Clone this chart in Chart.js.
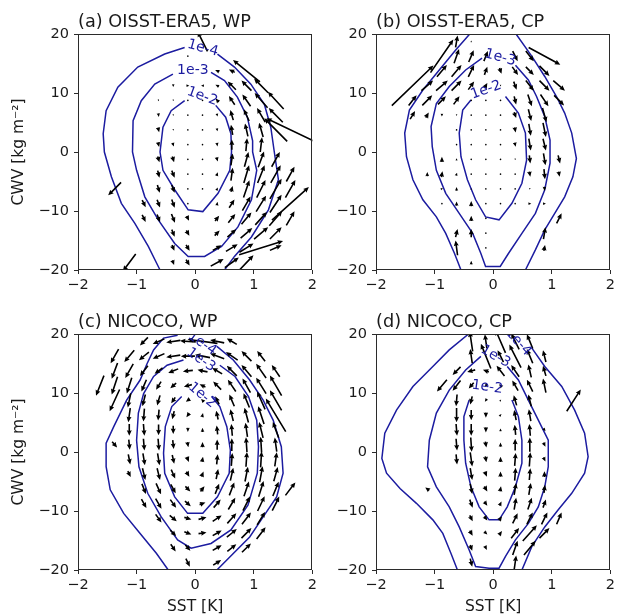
<!DOCTYPE html>
<html>
<head>
<meta charset="utf-8">
<title>SST-CWV phase space</title>
<script src="https://cdn.jsdelivr.net/npm/chart.js@4.4.1/dist/chart.umd.min.js"></script>
<style>
  html, body { margin: 0; padding: 0; background: #fff; }
  #wrap { position: relative; width: 618px; height: 616px; overflow: hidden; }
  #wrap canvas { position: absolute; }
</style>
</head>
<body>
<div id="wrap">
  <canvas id="panelA" width="320" height="300" style="left:0;top:0"></canvas>
  <canvas id="panelB" width="318" height="300" style="left:300px;top:0"></canvas>
  <canvas id="panelC" width="320" height="316" style="left:0;top:300px"></canvas>
  <canvas id="panelD" width="318" height="316" style="left:300px;top:300px"></canvas>
</div>
<script>
// ---- data ----
const xTickLabels = ['\u22122', '\u22121', '0', '1', '2'];
const yTickLabels = ['\u221220', '\u221210', '0', '10', '20'];
const panelTitles = ['(a) OISST-ERA5, WP', '(b) OISST-ERA5, CP', '(c) NICOCO, WP', '(d) NICOCO, CP'];

// contour lines [SST, CWV], broken where the inline labels sit
const a4Left = [[-0.18,17.7],[-0.52,16.6],[-0.98,14.4],[-1.32,11.0],[-1.52,7.0],[-1.57,3.1],[-1.55,0.0],[-1.43,-4.2],[-1.26,-8.7],[-1.03,-12.1],[-0.8,-16.0],[-0.63,-19.4],[-0.6,-20]];
const a4Right = [[0.38,16.6],[0.67,14.4],[0.95,11.5],[1.18,8.1],[1.29,4.2],[1.35,0.0],[1.42,-4.7],[1.25,-9.8],[0.96,-14.4],[0.67,-17.7],[0.5,-20]];
const a3 = [[0.27,13.5],[0.5,12.1],[0.72,9.3],[0.89,5.9],[0.98,1.9],[0.98,0.0],[1.05,-3.1],[0.96,-8.1],[0.73,-12.7],[0.45,-16.0],[0.16,-17.7],[-0.12,-17.7],[-0.35,-15.5],[-0.63,-11.5],[-0.86,-7.6],[-1.0,-3.1],[-1.07,0.0],[-1.06,5.3],[-0.92,8.7],[-0.69,11.5],[-0.38,13.2]];
const a2 = [[0.35,7.9],[0.52,5.9],[0.61,3.1],[0.62,0.0],[0.59,-3.1],[0.39,-7.0],[0.13,-10.1],[-0.12,-9.8],[-0.35,-6.4],[-0.55,-3.1],[-0.6,0.0],[-0.55,4.2],[-0.41,7.0],[-0.18,8.7]];

const b4Left = [[-0.4,20],[-0.64,17.3],[-0.92,13.9],[-1.2,10.5],[-1.43,7.1],[-1.51,3.2],[-1.48,-0.8],[-1.37,-4.7],[-1.2,-8.1],[-0.97,-11],[-0.81,-13.8],[-0.66,-17.2],[-0.55,-20]];
const b4Right = [[0.39,20],[0.66,16.2],[0.88,12.8],[1.08,9.4],[1.22,6.6],[1.34,3.2],[1.42,-1.1],[1.36,-4.2],[1.22,-7.6],[1.05,-10.4],[0.88,-13.2],[0.72,-16.6],[0.55,-20]];
const b3 = [[0.38,14.7],[0.6,12.2],[0.74,9.4],[0.88,6.0],[0.97,2.0],[0.97,-1.9],[0.88,-6.4],[0.72,-10.4],[0.49,-13.8],[0.26,-17.2],[0.12,-19.4],[-0.13,-19.4],[-0.21,-17.2],[-0.35,-13.8],[-0.58,-10.4],[-0.81,-7.0],[-0.97,-3.1],[-1.04,0.9],[-1.06,4.3],[-0.97,8.2],[-0.75,11.1],[-0.47,13.9],[-0.19,15.9]];
const b2 = [[0.21,9.4],[0.43,6.6],[0.55,3.2],[0.57,-1.4],[0.49,-5.3],[0.32,-8.7],[0.1,-11.5],[-0.13,-11],[-0.3,-8.1],[-0.44,-4.7],[-0.55,-0.8],[-0.58,3.2],[-0.52,7.1],[-0.38,8.8]];

const c4Left = [[-0.3,19.8],[-0.54,19.3],[-0.71,17.3],[-0.82,15.0],[-0.94,12.2],[-1.17,8.8],[-1.39,4.3],[-1.52,1.5],[-1.52,-2.5],[-1.45,-6.4],[-1.22,-10.4],[-0.94,-13.8],[-0.66,-17.2],[-0.46,-20]];
const c4Right = [[0.37,17.9],[0.65,15.6],[0.93,12.2],[1.16,8.8],[1.33,5.4],[1.47,0.9],[1.5,-3.6],[1.39,-7.6],[1.16,-11],[0.93,-14.4],[0.65,-17.2],[0.37,-20]];
const c3 = [[0.42,14.7],[0.68,12.8],[0.91,9.4],[1.05,5.4],[1.08,0.9],[1.06,-3.6],[0.9,-9.0],[0.61,-13.2],[0.27,-15.5],[-0.07,-16.3],[-0.3,-14.9],[-0.58,-11],[-0.81,-7.0],[-0.96,-2.5],[-1.0,2.0],[-0.97,6.6],[-0.88,9.9],[-0.71,12.8],[-0.48,14.7],[-0.2,15.6]];
const c2 = [[0.28,9.4],[0.42,7.7],[0.54,4.3],[0.6,0.3],[0.58,-3.6],[0.38,-7.6],[0.13,-10.4],[-0.13,-10.4],[-0.35,-7.6],[-0.52,-3.6],[-0.54,-0.2],[-0.51,4.3],[-0.4,7.7],[-0.23,9.4]];

const d4Left = [[-0.42,20],[-0.75,17.3],[-1.03,14.5],[-1.37,11.1],[-1.65,7.1],[-1.85,3.2],[-1.9,-1.1],[-1.82,-3.6],[-1.59,-6.2],[-1.31,-8.7],[-1.03,-11.5],[-0.86,-13.8],[-0.72,-17.2],[-0.61,-20]];
const d4Right = [[0.66,17.6],[0.88,14.5],[1.17,11.1],[1.39,7.1],[1.56,3.2],[1.62,-0.8],[1.56,-3.6],[1.34,-7.0],[1.11,-9.8],[0.88,-12.7],[0.66,-16],[0.49,-20]];
const d3 = [[0.24,14.5],[0.43,12.2],[0.6,8.8],[0.77,5.4],[0.94,2.0],[0.94,-2.5],[0.88,-5.9],[0.77,-9.3],[0.6,-12.1],[0.38,-14.9],[0.21,-17.7],[0.1,-19.7],[-0.07,-19.7],[-0.3,-19.4],[-0.41,-16.6],[-0.58,-12.7],[-0.75,-9.3],[-0.97,-5.9],[-1.12,-2.5],[-1.09,2.0],[-0.97,6.6],[-0.75,10.5],[-0.47,13.9],[-0.21,16.2]];
const d2 = [[0.32,8.8],[0.43,6.0],[0.49,2.0],[0.49,-1.9],[0.38,-5.9],[0.24,-9.3],[0.1,-11.5],[-0.07,-11.5],[-0.24,-9.3],[-0.38,-5.9],[-0.47,-1.9],[-0.5,2.0],[-0.5,6.0],[-0.41,8.8]];

// inline contour labels [text, SST, CWV, rotation deg]
const labelsA = [['1e-4', 0.13, 17.6, 15], ['1e-3', -0.04, 13.9, 0], ['1e-2', 0.12, 9.4, 20]];
const labelsB = [['1e-3', 0.12, 16.0, 15], ['1e-2', -0.12, 10.5, -20]];
const labelsC = [['1e-4', 0.12, 18.4, 35], ['1e-3', 0.1, 15.6, 35], ['1e-2', 0.12, 9.6, 40]];
const labelsD = [['1e-4', 0.43, 18.6, 48], ['1e-3', 0.04, 16.2, 30], ['1e-2', -0.1, 11.0, 8]];

// quiver arrows [SST, CWV, dSST, dCWV] (arrow centred on the bin)
const arrowsA = [
  [0.125,18.75,-0.17,3.4],[-0.125,16.25,0,-0.2],
  [0.375,13.75,-0.07,0.3],[0.625,13.75,-0.1,0.5],[0.875,13.75,-0.46,3.7],
  [-0.375,11.25,0,-0.5],[-0.125,11.25,0.05,0],[0.125,11.25,-0.05,0],[0.375,11.25,-0.06,0.3],[0.625,11.25,-0.14,1.4],[0.875,11.25,-0.17,1.7],[1.125,11.25,-0.24,2.4],
  [-0.625,8.75,0.01,-0.3],[-0.375,8.75,0,-0.3],[-0.125,8.75,0,-0.15],[0.125,8.75,0,-0.15],[0.375,8.75,-0.05,0.6],[0.625,8.75,-0.1,1.5],[0.875,8.75,-0.14,2.0],[1.125,8.75,-0.22,2.5],[1.375,8.75,-0.27,2.9],
  [-0.625,6.25,0.01,-0.6],[-0.375,6.25,0,-0.3],[-0.125,6.25,0,-0.15],[0.125,6.25,0,-0.15],[0.375,6.25,0.01,-0.5],[0.625,6.25,-0.05,1.7],[0.875,6.25,-0.09,2.0],[1.125,6.25,-0.14,2.4],[1.375,6.25,-0.24,2.4],
  [-0.625,3.75,0.02,-0.8],[-0.375,3.75,0,-0.3],[-0.125,3.75,0,-0.1],[0.125,3.75,0,-0.1],[0.375,3.75,0.01,-0.5],[0.625,3.75,-0.03,1.7],[0.875,3.75,-0.05,2.2],[1.125,3.75,-0.07,2.4],[1.375,3.75,-0.39,3.9],[1.625,3.75,-0.82,3.9],
  [-0.625,1.25,0.02,-0.8],[-0.375,1.25,0.02,-0.6],[-0.125,1.25,0,-0.1],[0.125,1.25,0,-0.1],[0.375,1.25,0.01,-0.6],[0.625,1.25,0,1.7],[0.875,1.25,0.02,2.2],[1.125,1.25,0.03,2.5],
  [-0.625,-1.25,0.03,-1.0],[-0.375,-1.25,0.03,-1.0],[-0.125,-1.25,0,-0.1],[0.125,-1.25,0,-0.1],[0.375,-1.25,0.02,-0.7],[0.625,-1.25,0.03,2.0],[0.875,-1.25,0.07,2.5],[1.125,-1.25,0.1,2.7],[1.375,-1.25,0.14,2.5],
  [-0.625,-3.75,0.03,-1.2],[-0.375,-3.75,0.05,-1.2],[-0.125,-3.75,0,-0.1],[0.125,-3.75,0,-0.1],[0.375,-3.75,0.02,0.6],[0.625,-3.75,0.03,2.2],[0.875,-3.75,0.09,3.0],[1.125,-3.75,0.12,3.0],[1.375,-3.75,0.17,3.0],[1.625,-3.75,0.14,2.5],
  [-1.375,-6.25,-0.22,-2.2],[-0.625,-6.25,0.04,-1.3],[-0.375,-6.25,0.05,-1.3],[-0.125,-6.25,0,-0.1],[0.125,-6.25,0,-0.1],[0.375,-6.25,0.02,0.5],[0.625,-6.25,0.03,1.0],[0.875,-6.25,0.1,2.9],[1.125,-6.25,0.15,3.0],[1.375,-6.25,0.2,3.4],[1.625,-6.25,0.17,3.0],
  [-0.875,-8.75,0.06,-1.2],[-0.625,-8.75,0.05,-1.3],[-0.375,-8.75,0.05,-1.4],[-0.125,-8.75,0.01,-0.2],[0.375,-8.75,0.01,0.6],[0.625,-8.75,0.09,1.4],[0.875,-8.75,0.14,2.4],[1.125,-8.75,0.17,2.7],[1.375,-8.75,0.2,3.0],[1.625,-8.75,0.63,5.6],
  [-0.875,-11.25,0.06,-1.2],[-0.625,-11.25,0.05,-1.3],[-0.375,-11.25,0.06,-1.5],[-0.125,-11.25,0.04,-0.8],[0.375,-11.25,0.07,0.85],[0.625,-11.25,0.12,1.5],[0.875,-11.25,0.17,2.0],[1.125,-11.25,0.2,2.2],[1.375,-11.25,0.22,2.5],[1.625,-11.25,0.14,2.4],
  [-0.375,-13.75,0.05,-1.2],[-0.125,-13.75,0.05,-0.9],[0.375,-13.75,0.085,0.85],[0.625,-13.75,0.15,1.35],[0.875,-13.75,0.2,1.7],[1.125,-13.75,0.24,2.0],[1.375,-13.75,0.2,2.0],
  [-0.375,-16.25,0.04,-1.0],[-0.125,-16.25,0.06,-1.0],[0.375,-16.25,0.15,0.85],[0.625,-16.25,0.2,1.2],[0.875,-16.25,0.24,1.5],[1.125,-16.25,0.75,2.3],[1.375,-16.25,0.2,0.85],
  [-1.125,-18.75,-0.22,-2.9],[-0.375,-18.75,0.03,-0.8],[-0.125,-18.75,0.06,-1.0],[0.375,-18.75,0.22,1.2],[0.625,-18.75,0.24,1.7],[0.875,-18.75,0.24,2.5]
];
const arrowsB = [
  [-0.625,18.75,0.034,2.0],[-0.375,18.75,0,0.3],
  [-0.875,16.25,0.39,5.6],[-0.625,16.25,0.085,2.4],[-0.375,16.25,0.085,2.0],[-0.125,16.25,0.068,1.7],[0.375,16.25,0.085,-1.7],[0.625,16.25,0.136,-1.7],[0.875,16.25,0.54,-2.9],
  [-0.875,13.75,0.17,2.0],[-0.625,13.75,0.17,2.0],[-0.375,13.75,0.1,2.0],[-0.125,13.75,0.05,1.36],[0.125,13.75,0.034,-1.0],[0.375,13.75,0.1,-1.36],[0.625,13.75,0.136,-1.36],[0.875,13.75,0.17,-1.7],
  [-1.375,11.25,0.71,6.8],[-1.125,11.25,0.2,1.7],[-0.875,11.25,0.2,1.7],[-0.625,11.25,0.17,1.7],[-0.375,11.25,0.1,1.36],[-0.125,11.25,0.05,0.85],[0.125,11.25,0,-0.3],[0.375,11.25,0.05,-1.36],[0.625,11.25,0.136,-1.7],[0.875,11.25,0.17,-1.7],[1.125,11.25,0.2,-1.7],
  [-1.375,8.75,0.136,1.7],[-1.125,8.75,0.17,1.7],[-0.875,8.75,0.136,1.36],[-0.625,8.75,0.1,1.36],[-0.375,8.75,0,0.2],[-0.125,8.75,0,0.1],[0.125,8.75,0,-0.1],[0.375,8.75,0.034,-1.36],[0.625,8.75,0.068,-2.0],[0.875,8.75,0.136,-2.0],[1.125,8.75,0.17,-1.7],
  [-1.375,6.25,0.085,1.36],[-1.125,6.25,0.05,0.85],[-0.875,6.25,0,-0.5],[-0.625,6.25,0,-0.3],[-0.375,6.25,0,-0.1],[-0.125,6.25,0,0.1],[0.125,6.25,0,-0.1],[0.375,6.25,0.034,-1.0],[0.625,6.25,0.05,-2.0],[0.875,6.25,0.068,-2.4],
  [-0.625,3.75,0,-0.2],[-0.375,3.75,0,-0.1],[-0.125,3.75,0,0.1],[0.125,3.75,0,-0.1],[0.375,3.75,0.017,-0.85],[0.625,3.75,0.034,-2.0],[0.875,3.75,0.05,-2.4],
  [-0.625,1.25,0,0.1],[-0.375,1.25,0,-0.1],[-0.125,1.25,0,0.1],[0.125,1.25,0,-0.1],[0.375,1.25,0.017,-0.7],[0.625,1.25,0.034,-2.0],[0.875,1.25,0.05,-2.0],
  [-0.875,-1.25,0,0.85],[-0.625,-1.25,0,0.4],[-0.375,-1.25,0,0.1],[-0.125,-1.25,0,0.1],[0.125,-1.25,0,-0.1],[0.375,-1.25,0,-0.3],[0.625,-1.25,0.017,-1.36],[0.875,-1.25,0.034,-2.0],[1.125,-1.25,0.034,-1.36],
  [-1.125,-3.75,0,0.7],[-0.875,-3.75,0.017,1.0],[-0.625,-3.75,0.017,0.5],[-0.375,-3.75,0,0.2],[-0.125,-3.75,0,0.1],[0.125,-3.75,0,-0.1],[0.375,-3.75,0,-0.2],[0.625,-3.75,0.017,-0.85],[0.875,-3.75,0.017,-1.7],[1.125,-3.75,0.017,-0.85],
  [-0.875,-6.25,0.04,0.1],[-0.625,-6.25,0,0.6],[-0.375,-6.25,0,0.3],[-0.125,-6.25,0,0.1],[0.125,-6.25,0,0.1],[0.375,-6.25,0,-0.1],[0.625,-6.25,0,-0.3],[0.875,-6.25,0,-0.68],
  [-0.875,-8.75,0.02,0],[-0.625,-8.75,0,0.7],[-0.375,-8.75,0,0.85],[-0.125,-8.75,0,0.2],[0.125,-8.75,0,0.1],[0.375,-8.75,0.02,0],[0.625,-8.75,0.05,0],[0.875,-8.75,0.05,0],
  [-0.375,-11.25,0,0.85],[-0.125,-11.25,0,0.2],[1.125,-11.25,0.085,1.7],
  [-0.625,-13.75,0.034,1.36],[-0.375,-13.75,0,1.36],[-0.125,-13.75,0,0.2],[0.875,-13.75,0.034,2.0],
  [-0.625,-16.25,-0.034,2.5],[-0.125,-16.25,0,0.2],[0.875,-16.25,0.02,1.0],
  [-0.375,-18.75,0,0.6]
];
const arrowsC = [
  [-0.875,18.75,-0.136,-1.36],[-0.625,18.75,-0.2,-0.85],[-0.375,18.75,-0.24,-0.34],[-0.125,18.75,-0.27,0.17],[0.125,18.75,-0.51,0.68],[0.375,18.75,-0.24,0.5],[0.625,18.75,-0.17,1.0],
  [-1.375,16.25,-0.136,-2.4],[-1.125,16.25,-0.17,-2.0],[-0.875,16.25,-0.17,-1.36],[-0.625,16.25,-0.2,-0.85],[-0.375,16.25,-0.24,-0.34],[-0.125,16.25,-0.24,0],[0.125,16.25,-0.255,0.5],[0.375,16.25,-0.24,0.85],[0.625,16.25,-0.2,1.36],[0.875,16.25,-0.17,1.7],[1.125,16.25,-0.136,1.7],
  [-1.375,13.75,-0.1,-2.7],[-1.125,13.75,-0.136,-2.4],[-0.875,13.75,-0.136,-1.7],[-0.625,13.75,-0.136,-1.0],[-0.375,13.75,-0.17,-0.68],[-0.125,13.75,-0.17,-0.17],[0.125,13.75,-0.17,0.34],[0.375,13.75,-0.17,1.0],[0.625,13.75,-0.17,1.7],[0.875,13.75,-0.17,2.0],[1.125,13.75,-0.17,2.4],[1.375,13.75,-0.136,2.0],
  [-1.625,11.25,-0.136,-3.4],[-1.375,11.25,-0.1,-3.05],[-1.125,11.25,-0.085,-2.7],[-0.875,11.25,-0.085,-2.0],[-0.625,11.25,-0.085,-1.36],[-0.375,11.25,-0.1,-0.85],[-0.125,11.25,-0.136,-0.34],[0.125,11.25,-0.1,0.5],[0.375,11.25,-0.136,1.36],[0.625,11.25,-0.136,2.0],[0.875,11.25,-0.136,2.4],[1.125,11.25,-0.17,2.7],[1.375,11.25,-0.2,3.4],
  [-1.375,8.75,-0.17,-3.7],[-1.125,8.75,-0.05,-2.4],[-0.875,8.75,-0.05,-2.0],[-0.625,8.75,-0.05,-1.7],[-0.375,8.75,-0.068,-1.0],[-0.125,8.75,-0.068,-0.5],[0.125,8.75,-0.05,0.5],[0.375,8.75,-0.068,1.36],[0.625,8.75,-0.085,2.0],[0.875,8.75,-0.1,2.4],[1.125,8.75,-0.136,3.05],[1.375,8.75,-0.2,3.4],
  [-1.125,6.25,-0.034,-2.4],[-0.875,6.25,-0.017,-2.2],[-0.625,6.25,-0.017,-1.86],[-0.375,6.25,-0.034,-1.36],[-0.125,6.25,-0.05,-0.68],[0.125,6.25,0.017,0.68],[0.375,6.25,-0.034,1.5],[0.625,6.25,-0.05,2.0],[0.875,6.25,-0.068,2.5],[1.125,6.25,-0.1,3.05],[1.375,6.25,-0.34,5.6],
  [-1.125,3.75,0,-2.0],[-0.875,3.75,0.017,-2.0],[-0.625,3.75,0,-1.86],[-0.375,3.75,0,-1.36],[-0.125,3.75,0,-0.68],[0.125,3.75,0,0.68],[0.375,3.75,-0.017,1.5],[0.625,3.75,-0.017,2.0],[0.875,3.75,-0.034,2.4],[1.125,3.75,-0.068,2.7],[1.375,3.75,-0.1,2.7],
  [-1.375,1.25,0.085,-1.0],[-1.125,1.25,0.017,-1.7],[-0.875,1.25,0.017,-2.0],[-0.625,1.25,0.017,-2.0],[-0.375,1.25,0.017,-1.5],[-0.125,1.25,0.017,-0.85],[0.125,1.25,0,0.85],[0.375,1.25,0,1.7],[0.625,1.25,0,2.2],[0.875,1.25,-0.017,2.5],[1.125,1.25,-0.017,2.7],[1.375,1.25,-0.034,2.4],
  [-1.125,-1.25,0.034,-1.7],[-0.875,-1.25,0.034,-2.0],[-0.625,-1.25,0.034,-2.0],[-0.375,-1.25,0.034,-1.5],[-0.125,-1.25,0.034,-0.85],[0.125,-1.25,0.017,0.85],[0.375,-1.25,0.017,1.7],[0.625,-1.25,0.017,2.2],[0.875,-1.25,0.017,2.5],[1.125,-1.25,0.017,2.7],[1.375,-1.25,0.034,2.4],
  [-1.125,-3.75,0.05,-1.0],[-0.875,-3.75,0.05,-2.0],[-0.625,-3.75,0.05,-2.0],[-0.375,-3.75,0.068,-1.5],[-0.125,-3.75,0.05,-0.85],[0.125,-3.75,0.034,0.85],[0.375,-3.75,0.034,1.7],[0.625,-3.75,0.05,2.2],[0.875,-3.75,0.05,2.5],[1.125,-3.75,0.05,2.7],[1.375,-3.75,0.068,2.4],
  [-0.875,-6.25,0.068,-1.7],[-0.625,-6.25,0.085,-1.86],[-0.375,-6.25,0.085,-1.5],[-0.125,-6.25,0.085,-0.85],[0.125,-6.25,0.068,0.85],[0.375,-6.25,0.068,1.7],[0.625,-6.25,0.085,2.2],[0.875,-6.25,0.085,2.5],[1.125,-6.25,0.085,2.7],[1.375,-6.25,0.1,2.4],[1.625,-6.25,0.17,2.2],
  [-0.875,-8.75,0.085,-1.5],[-0.625,-8.75,0.1,-1.7],[-0.375,-8.75,0.1,-1.36],[-0.125,-8.75,0.1,-0.85],[0.125,-8.75,0.1,0.34],[0.375,-8.75,0.12,1.36],[0.625,-8.75,0.12,2.0],[0.875,-8.75,0.12,2.4],[1.125,-8.75,0.12,2.5],[1.375,-8.75,0.12,2.4],
  [-0.625,-11.25,0.1,-1.36],[-0.375,-11.25,0.12,-1.0],[-0.125,-11.25,0.12,-0.34],[0.125,-11.25,0.136,0.34],[0.375,-11.25,0.153,1.0],[0.625,-11.25,0.153,1.7],[0.875,-11.25,0.153,2.0],[1.125,-11.25,0.136,2.2],
  [-0.375,-13.75,0.1,-1.0],[-0.125,-13.75,0.12,-0.5],[0.125,-13.75,0.136,0.17],[0.375,-13.75,0.153,0.85],[0.625,-13.75,0.17,1.36],[0.875,-13.75,0.17,1.7],[1.125,-13.75,0.153,2.0],
  [-0.375,-16.25,0.085,-1.2],[-0.125,-16.25,0.085,-1.0],[0.375,-16.25,0.153,0.85],[0.625,-16.25,0.153,1.2],[0.875,-16.25,0.153,1.5],
  [-0.125,-18.75,0.068,-1.36],[0.375,-18.75,0.136,0.85]
];
const arrowsD = [
  [-0.375,18.75,-0.05,3.4],[-0.125,18.75,-0.034,2.4],[0.125,18.75,-0.17,3.9],[0.375,18.75,-0.136,2.7],[0.625,18.75,-0.1,2.4],
  [-0.375,16.25,-0.034,2.4],[-0.125,16.25,-0.17,4.2],[0.125,16.25,-0.1,2.0],[0.375,16.25,-0.2,3.9],[0.625,16.25,-0.1,2.4],[0.875,16.25,-0.05,2.0],
  [-0.625,13.75,-0.136,-1.36],[-0.375,13.75,-0.136,-0.34],[-0.125,13.75,-0.1,0.34],[0.125,13.75,-0.136,1.7],[0.375,13.75,-0.136,2.0],[0.625,13.75,-0.05,2.2],[0.875,13.75,-0.05,1.7],
  [-0.875,11.25,-0.17,-2.0],[-0.625,11.25,-0.136,-1.7],[-0.375,11.25,-0.085,-1.0],[-0.125,11.25,-0.034,-0.5],[0.125,11.25,-0.05,0.5],[0.375,11.25,-0.1,1.7],[0.625,11.25,-0.1,2.0],[0.875,11.25,-0.05,2.4],
  [-0.625,8.75,-0.017,-2.0],[-0.375,8.75,-0.034,-1.36],[-0.125,8.75,-0.034,-0.5],[0.125,8.75,0.02,0.3],[0.375,8.75,-0.05,1.7],[0.625,8.75,-0.05,2.0],[1.375,8.75,0.24,3.7],
  [-0.625,6.25,0,-2.4],[-0.375,6.25,0,-1.7],[-0.125,6.25,0,-0.85],[0.125,6.25,0.034,0.34],[0.375,6.25,-0.034,1.7],[0.625,6.25,-0.034,2.0],
  [-0.625,3.75,0.017,-2.0],[-0.375,3.75,0,-2.0],[-0.125,3.75,0,-0.85],[0.125,3.75,0,0.5],[0.375,3.75,-0.017,1.7],[0.625,3.75,-0.017,2.0],[0.875,3.75,0.034,-0.5],
  [-0.625,1.25,0.017,-2.0],[-0.375,1.25,0.017,-2.4],[-0.125,1.25,0.017,-1.0],[0.125,1.25,0,0.68],[0.375,1.25,0,2.0],[0.625,1.25,0,2.4],[0.875,1.25,0.034,-0.68],
  [-0.625,-1.25,0.017,-1.7],[-0.375,-1.25,0.034,-2.4],[-0.125,-1.25,0.017,-1.0],[0.125,-1.25,0,0.85],[0.375,-1.25,0.017,2.2],[0.625,-1.25,0.017,2.4],[0.875,-1.25,0.034,-0.68],
  [-0.375,-3.75,0.034,-2.0],[-0.125,-3.75,0.034,-0.85],[0.125,-3.75,0,0.85],[0.375,-3.75,0.017,2.2],[0.625,-3.75,0.017,2.0],[0.875,-3.75,0,1.0],
  [-1.125,-6.25,-0.068,0.5],[-0.375,-6.25,0.034,-1.7],[-0.125,-6.25,0.05,-0.85],[0.125,-6.25,0.017,0.85],[0.375,-6.25,0.034,2.0],[0.625,-6.25,0.034,2.0],[0.875,-6.25,0.017,1.36],
  [-0.375,-8.75,0.05,-1.36],[-0.125,-8.75,0.05,-0.68],[0.125,-8.75,0.034,0.68],[0.375,-8.75,0.034,2.0],[0.625,-8.75,0.068,2.0],[0.875,-8.75,0.05,1.36],
  [-0.375,-11.25,0.05,-1.0],[-0.125,-11.25,0.05,-0.68],[0.125,-11.25,0.05,0.68],[0.375,-11.25,0.085,1.7],[0.625,-11.25,0.1,2.0],[0.875,-11.25,0.1,2.0],[1.125,-11.25,0.085,2.0],
  [-0.375,-13.75,0.05,-0.85],[-0.125,-13.75,0.05,-0.5],[0.125,-13.75,0.05,0.68],[0.375,-13.75,0.136,1.7],[0.625,-13.75,0.24,2.7],[0.875,-13.75,0.17,1.7],
  [-0.375,-16.25,0.034,-1.0],[-0.125,-16.25,0.034,-0.68],[0.375,-16.25,0.085,2.4],[0.625,-16.25,0.2,2.4],
  [-0.375,-18.75,0.034,-1.36],[0.375,-18.75,0.034,2.4]
];

// ---- drawing ----
const FONT = 'DejaVu Sans';
const contourColor = '#1c1ca0';
const textColor = '#1a1a1a';
const axisColor = '#2b2b2b';

Chart.defaults.font.family = FONT;
Chart.defaults.color = textColor;

// matplotlib-like quiver arrow, drawn in pixel space
function drawArrow(ctx, x0, y0, x1, y1) {
  const dx = x1 - x0, dy = y1 - y0, L = Math.hypot(dx, dy);
  const W = 1.6, HL = 5.5, HAL = 5.0, HW = 5.0;
  if (L < W) {
    ctx.beginPath();
    ctx.arc((x0 + x1) / 2, (y0 + y1) / 2, W / 2, 0, Math.PI * 2);
    ctx.fill();
    return;
  }
  const len = Math.max(L, HL), k = L / len;
  const c = dx / L, s = dy / L;
  const pts = [[0, -W / 2], [len - HAL, -W / 2], [len - HL, -HW / 2], [len, 0],
               [len - HL, HW / 2], [len - HAL, W / 2], [0, W / 2]];
  ctx.beginPath();
  pts.forEach(([a, b], i) => {
    const px = x0 + (a * c - b * s) * k, py = y0 + (a * s + b * c) * k;
    if (i) ctx.lineTo(px, py); else ctx.moveTo(px, py);
  });
  ctx.closePath();
  ctx.fill();
}

const panelPlugin = {
  id: 'panelExtras',
  afterDatasetsDraw(chart, args, opts) {
    const { ctx, chartArea: ca, scales: { x, y } } = chart;
    // arrows
    ctx.save();
    ctx.beginPath();
    ctx.rect(ca.left, ca.top, ca.right - ca.left, ca.bottom - ca.top);
    ctx.clip();
    ctx.fillStyle = '#000';
    chart.data.datasets.forEach(ds => {
      if (!ds.quiver) return;
      ds.data.forEach(p => {
        drawArrow(ctx,
          x.getPixelForValue(p.x - p.u / 2), y.getPixelForValue(p.y - p.v / 2),
          x.getPixelForValue(p.x + p.u / 2), y.getPixelForValue(p.y + p.v / 2));
      });
    });
    // contour labels
    ctx.fillStyle = contourColor;
    ctx.font = '14px "' + FONT + '"';
    ctx.textAlign = 'center';
    ctx.textBaseline = 'middle';
    (opts.labels || []).forEach(([txt, lx, ly, rot]) => {
      ctx.save();
      ctx.translate(x.getPixelForValue(lx), y.getPixelForValue(ly));
      ctx.rotate(rot * Math.PI / 180);
      ctx.fillText(txt, 0, 0);
      ctx.restore();
    });
    ctx.restore();

    // frame
    ctx.save();
    ctx.strokeStyle = axisColor;
    ctx.lineWidth = 1;
    ctx.strokeRect(Math.round(ca.left) + 0.5, Math.round(ca.top) + 0.5,
      Math.round(ca.right - ca.left) - 1, Math.round(ca.bottom - ca.top) - 1);
    // title
    ctx.fillStyle = textColor;
    ctx.font = '17.7px "' + FONT + '"';
    ctx.textAlign = 'left';
    ctx.textBaseline = 'alphabetic';
    ctx.fillText(opts.title, ca.left, ca.top - 7);
    ctx.restore();
  }
};

function makePanel(id, cfg) {
  const datasets = [];
  cfg.contours.forEach(seg => datasets.push({
    data: seg.map(p => ({ x: p[0], y: p[1] })),
    showLine: true,
    borderColor: contourColor,
    borderWidth: 1.5,
    pointRadius: 0,
    fill: false,
    tension: 0
  }));
  datasets.push({
    data: cfg.arrows.map(a => ({ x: a[0], y: a[1], u: a[2], v: a[3] })),
    quiver: true,
    pointRadius: 0,
    showLine: false
  });

  new Chart(document.getElementById(id), {
    type: 'scatter',
    data: { datasets },
    plugins: [panelPlugin],
    options: {
      responsive: false,
      animation: false,
      devicePixelRatio: 1,
      events: [],
      layout: { padding: { left: 0, right: cfg.padRight, top: 34, bottom: 0 } },
      plugins: {
        legend: { display: false },
        tooltip: { enabled: false },
        panelExtras: { title: cfg.title, labels: cfg.labels }
      },
      scales: {
        x: {
          type: 'linear', min: -2, max: 2,
          ticks: {
            stepSize: 1, padding: 3, maxRotation: 0, color: textColor,
            font: { size: 14.5 },
            callback: v => xTickLabels[Math.round(v + 2)]
          },
          grid: { drawOnChartArea: false, drawTicks: true, tickLength: 4, color: axisColor },
          border: { display: false },
          title: {
            display: cfg.xTitle, text: 'SST [K]', color: textColor,
            font: { size: 15.5 }, padding: { top: 0, bottom: 0 }
          },
          afterFit: s => { s.height = cfg.xHeight; }
        },
        y: {
          type: 'linear', min: -20, max: 20,
          ticks: {
            stepSize: 10, padding: 5, color: textColor,
            font: { size: 14.5 },
            callback: v => yTickLabels[Math.round((v + 20) / 10)]
          },
          grid: { drawOnChartArea: false, drawTicks: true, tickLength: 4, color: axisColor },
          border: { display: false },
          title: {
            display: cfg.yTitle, text: 'CWV [kg m\u207B\u00B2]', color: textColor,
            font: { size: 15.5 }, padding: { top: 10, bottom: 0 }
          },
          afterFit: s => { s.width = cfg.yWidth; }
        }
      }
    }
  });
}

makePanel('panelA', { title: panelTitles[0], contours: [a4Left, a4Right, a3, a2], labels: labelsA, arrows: arrowsA,
  xTitle: false, yTitle: true, xHeight: 30, yWidth: 78, padRight: 7 });
makePanel('panelB', { title: panelTitles[1], contours: [b4Left, b4Right, b3, b2], labels: labelsB, arrows: arrowsB,
  xTitle: false, yTitle: false, xHeight: 30, yWidth: 76, padRight: 5 });
makePanel('panelC', { title: panelTitles[2], contours: [c4Left, c4Right, c3, c2], labels: labelsC, arrows: arrowsC,
  xTitle: true, yTitle: true, xHeight: 46, yWidth: 78, padRight: 7 });
makePanel('panelD', { title: panelTitles[3], contours: [d4Left, d4Right, d3, d2], labels: labelsD, arrows: arrowsD,
  xTitle: true, yTitle: false, xHeight: 46, yWidth: 76, padRight: 5 });
</script>
</body>
</html>
